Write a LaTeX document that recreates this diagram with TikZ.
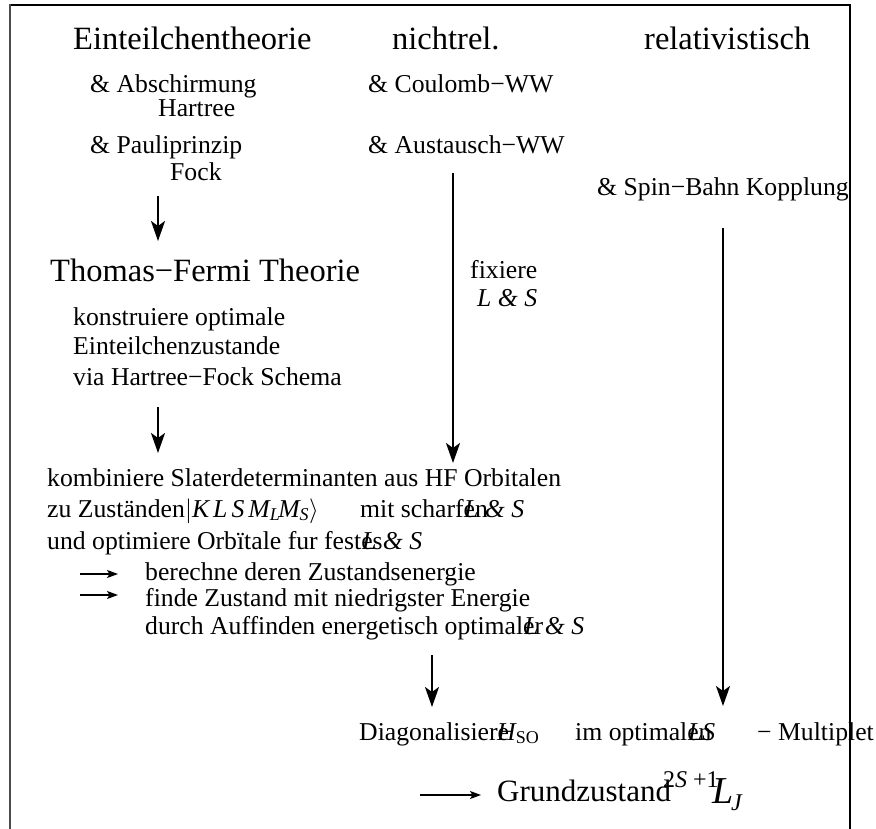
\documentclass[tikz,border=0pt]{standalone}
\usepackage{fontspec}
\setmainfont{Liberation Serif}
\usetikzlibrary{arrows.meta}
\begin{document}
\begin{tikzpicture}[x=1pt,y=-1pt,
  txt/.style={anchor=base west, inner sep=0pt, font=\fontsize{25.7}{30}\selectfont},
  it/.style={anchor=base west, inner sep=0pt, font=\fontsize{25.7}{30}\selectfont\itshape},
  big/.style={anchor=base west, inner sep=0pt, font=\fontsize{32.5}{38}\selectfont},
  bigarrow/.style={line width=2.2pt, -{Stealth[length=20pt,width=14pt,inset=5pt]}},
  smallarrow/.style={line width=1.2pt, -{Stealth[length=11pt,width=8pt,inset=2.5pt]}},
  frameline/.style={line width=1.5pt}]
\useasboundingbox (0,0) rectangle (876,829);
% frame
\draw[frameline] (10,5) -- (850,5) -- (850,829);
\draw[line width=1.8pt, black!70] (10,4.3) -- (10,829);
% header row
\node[big] (t1) at (73,50) {Einteilchentheorie};
\node[big] (t2) at (392,50) {nichtrel.};
\node[big] (t3) at (644,50) {relativistisch};
% left column
\node[txt] (abs) at (90,93) {\& Abschirmung};
\node[txt] (har) at (158,117) {Hartree};
\node[txt] (pau) at (90,154) {\& Pauliprinzip};
\node[txt] (fock) at (170,181) {Fock};
\node[big] (tf) at (50,282) {Thomas−Fermi Theorie};
\node[txt] (k1) at (73,325) {konstruiere optimale};
\node[txt] (k2) at (73,354) {Einteilchenzustande};
\node[txt] (k3) at (73,385) {via Hartree−Fock Schema};
% middle column
\node[txt] (cou) at (368,93) {\& Coulomb−WW};
\node[txt] (aus) at (368,154) {\& Austausch−WW};
\node[txt] (fix) at (470,279) {fixiere};
\node[it] (fixls) at (477,307) {L \& S};
% right column
\node[txt] (sb) at (597,196) {\& Spin−Bahn Kopplung};
% arrows
\coordinate (a1s) at (158,196); \coordinate (a1e) at (158,241);
\coordinate (a2s) at (158,407); \coordinate (a2e) at (158,453);
\coordinate (a3s) at (453,173); \coordinate (a3e) at (453,463);
\coordinate (a4s) at (723,228); \coordinate (a4e) at (723,706);
\coordinate (a5s) at (432,655); \coordinate (a5e) at (432,707);
\draw[bigarrow] (a1s) -- (a1e);
\draw[bigarrow] (a2s) -- (a2e);
\draw[bigarrow] (a3s) -- (a3e);
\draw[bigarrow] (a4s) -- (a4e);
\draw[bigarrow] (a5s) -- (a5e);
% lower block
\node[txt] (c1) at (47,486) {kombiniere Slaterdeterminanten aus HF Orbitalen};
\node[txt] (c2) at (47,517) {zu Zuständen};
\node[txt] (ket) at (185,517) {$|$\textit{K\kern4pt L\kern4pt S\kern4pt M\textsubscript{L}\kern-2pt M\textsubscript{S}}$\rangle$};
\node[txt] (c2b) at (360,517) {mit scharfen};
\node[it] (c2ls) at (464,517) {L \& S};
\node[txt] (c3) at (47,549) {und optimiere Orbïtale fur festes};
\node[it] (c3ls) at (362,549) {L \& S};
\coordinate (b1s) at (80,574); \coordinate (b1e) at (118,574);
\coordinate (b2s) at (80,595); \coordinate (b2e) at (118,595);
\draw[smallarrow] (b1s) -- (b1e);
\draw[smallarrow] (b2s) -- (b2e);
\node[txt] (d1) at (145,580) {berechne deren Zustandsenergie};
\node[txt] (d2) at (145,606) {finde Zustand mit niedrigster Energie};
\node[txt] (d3) at (145,634) {durch Auffinden energetisch optimaler};
\node[it] (d3ls) at (524,634) {L \& S};
% bottom
\node[txt] (dg) at (359,740) {Diagonalisiere};
\node[it] (hso) at (497,740) {H\textsubscript{\upshape SO}};
\node[txt] (imo) at (575,740) {im optimalen};
\node[it] (ls) at (688,740) {LS};
\node[txt] (mul) at (757,740) {− Multiplet};
\coordinate (g1s) at (420,795); \coordinate (g1e) at (481,795);
\draw[smallarrow] (g1s) -- (g1e);
\node[anchor=base west, inner sep=0pt, font=\fontsize{31}{36}\selectfont] (gz) at (497,801) {Grundzustand};
\node[anchor=base west, inner sep=0pt, font=\fontsize{24}{28}\selectfont] (sup) at (663,787) {2\textit{S} +1};
\node[anchor=base west, inner sep=0pt, font=\fontsize{38}{44}\selectfont\itshape] (lj) at (712,803) {L};
\node[anchor=base west, inner sep=0pt, font=\fontsize{24}{28}\selectfont\itshape] (jj) at (731,810) {J};
\end{tikzpicture}
\end{document}
